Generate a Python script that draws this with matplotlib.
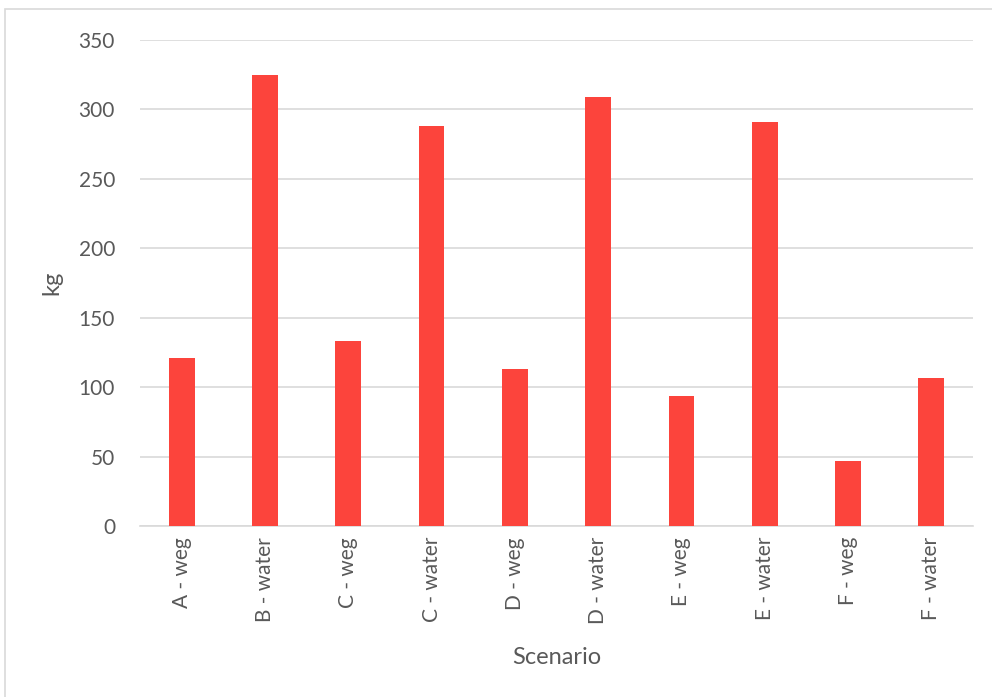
import matplotlib
matplotlib.use("Agg")
import matplotlib.pyplot as plt
from matplotlib.patches import Rectangle

categories = ["A - weg", "B - water", "C - weg", "C - water", "D - weg",
              "D - water", "E - weg", "E - water", "F - weg", "F - water"]
values = [121, 324.5, 133, 288, 113, 309, 93.6, 291, 47, 106.5]
yticks = [0, 50, 100, 150, 200, 250, 300, 350]

plt.rcParams['font.family'] = ['Lato', 'DejaVu Sans']
W, H = 992, 697
fig = plt.figure(figsize=(W / 100, H / 100), dpi=100)
ax = fig.add_axes([140 / W, 1 - 526 / H, (973 - 140) / W, (526 - 40) / H])

x = list(range(len(categories)))
ax.bar(x, values, width=0.31, color="#FC443C", zorder=3)
ax.set_xlim(-0.5, len(categories) - 0.5)
ax.set_ylim(0, 350)
ax.set_yticks(yticks)
ax.set_yticklabels([str(t) for t in yticks], fontsize=15, color="#595959")
ax.set_xticks(x)
ax.set_xticklabels(categories, rotation=90, fontsize=15, color="#595959")
ax.tick_params(axis='x', length=0, pad=8)
ax.tick_params(axis='y', length=0, pad=18)
ax.grid(axis='y', color="#D9D9D9", linewidth=1.2, zorder=0)
for s in ["top", "right", "left"]:
    ax.spines[s].set_visible(False)
ax.spines["bottom"].set_color("#D9D9D9")
ax.spines["bottom"].set_linewidth(1.2)
ax.set_ylabel("kg", fontsize=17, color="#595959", labelpad=12)
ax.set_xlabel("Scenario", fontsize=17, color="#595959", labelpad=16)

fig.patches.append(Rectangle((5 / W, -0.1), 1.2, 1 - 9 / H + 0.1,
                             transform=fig.transFigure, fill=False,
                             edgecolor="#D9D9D9", linewidth=1.2))
fig.savefig("out.png", dpi=100, facecolor="white")
